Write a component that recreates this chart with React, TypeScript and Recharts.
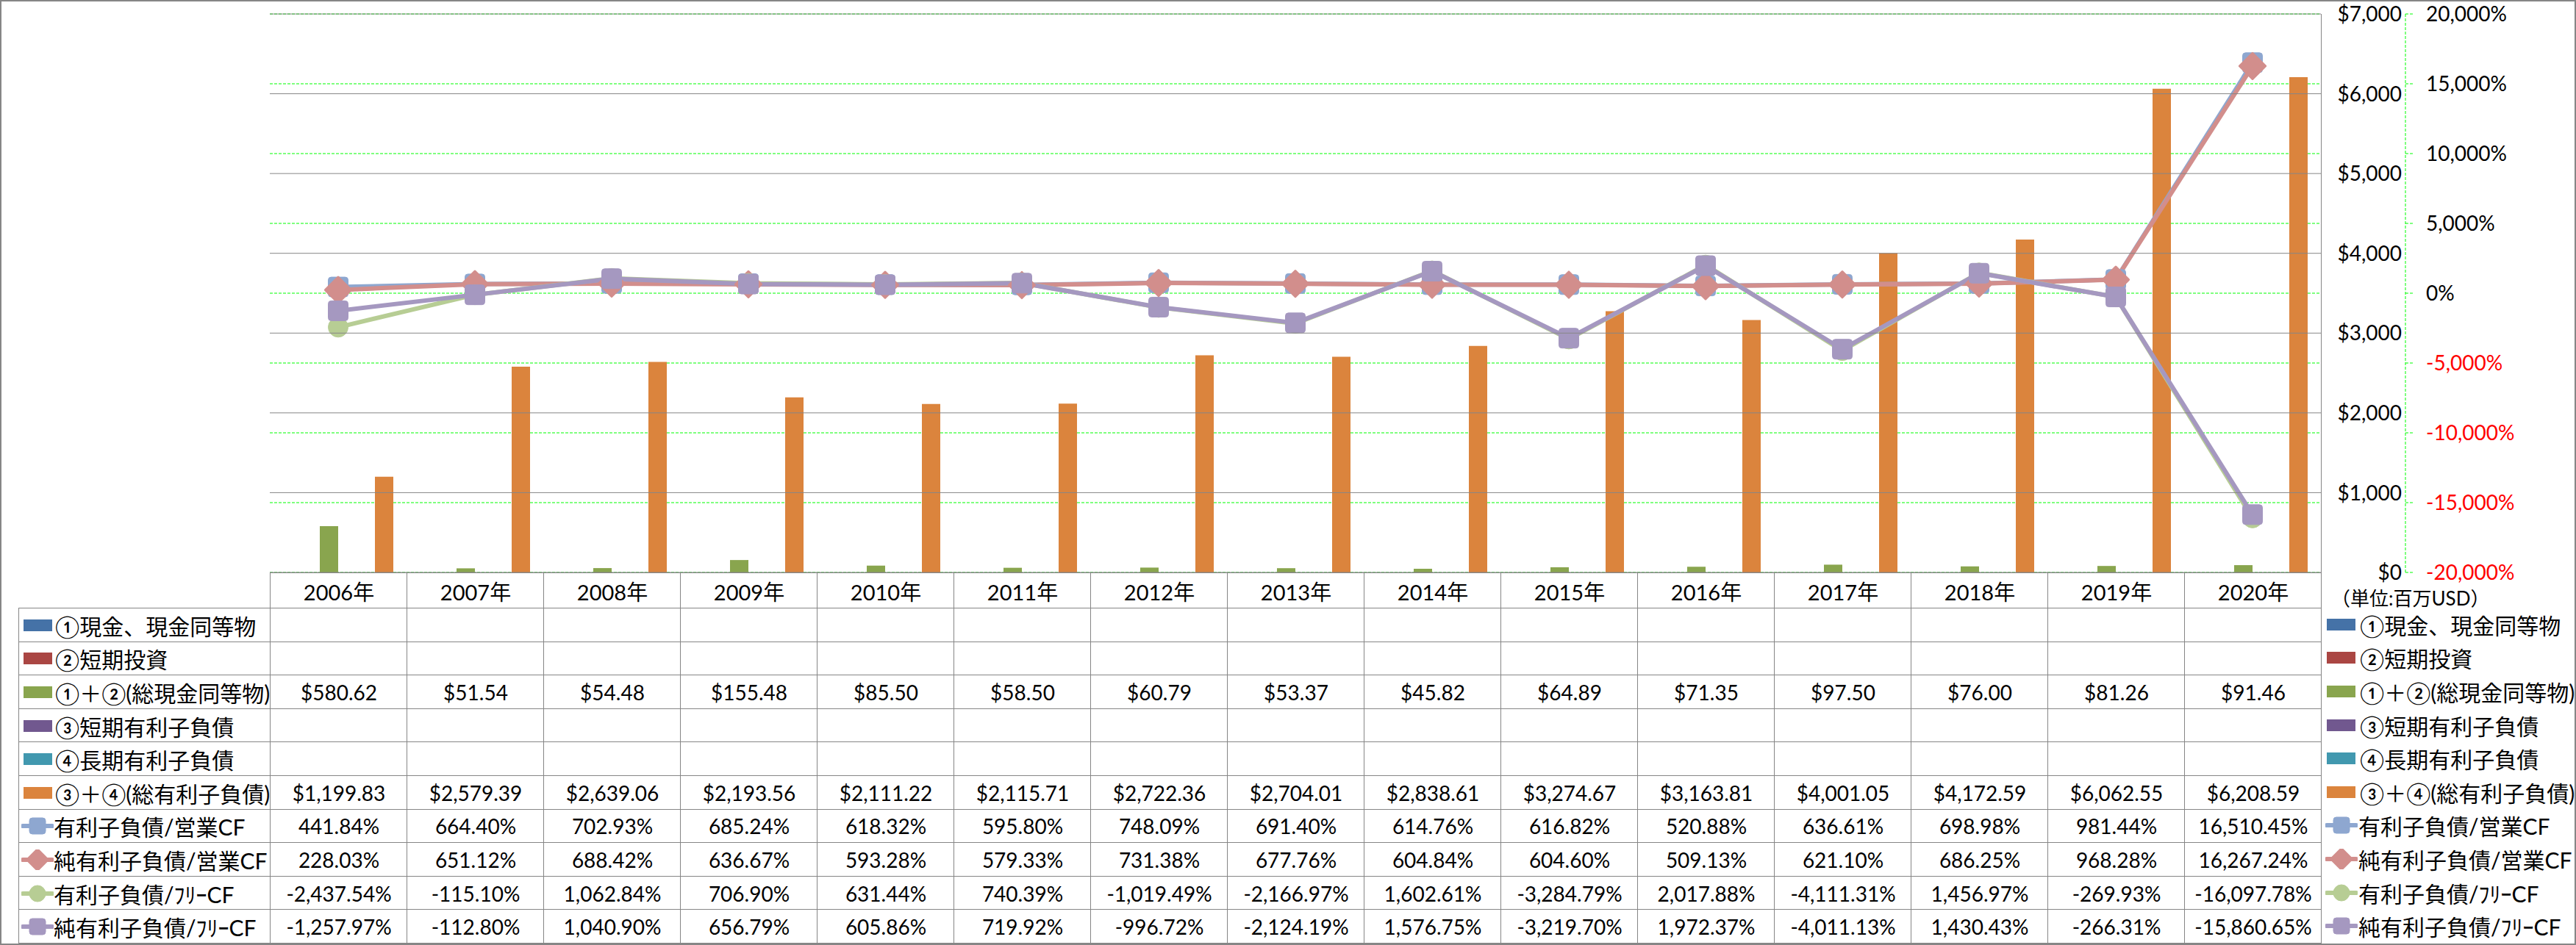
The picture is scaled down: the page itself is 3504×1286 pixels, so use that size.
import { Bar, CartesianGrid, ComposedChart, Line, XAxis, YAxis } from 'recharts';

// ---- data ----
const YEARS = [
  '2006年', '2007年', '2008年', '2009年', '2010年', '2011年', '2012年', '2013年',
  '2014年', '2015年', '2016年', '2017年', '2018年', '2019年', '2020年',
];

// ① / ② / ③ / ④ are empty in the source sheet
const CASH: (number | null)[] = [null, null, null, null, null, null, null, null, null, null, null, null, null, null, null];
const SHORT_INV: (number | null)[] = [null, null, null, null, null, null, null, null, null, null, null, null, null, null, null];
const TOTAL_CASH = [580.62, 51.54, 54.48, 155.48, 85.5, 58.5, 60.79, 53.37, 45.82, 64.89, 71.35, 97.5, 76.0, 81.26, 91.46];
const SHORT_DEBT: (number | null)[] = [null, null, null, null, null, null, null, null, null, null, null, null, null, null, null];
const LONG_DEBT: (number | null)[] = [null, null, null, null, null, null, null, null, null, null, null, null, null, null, null];
const TOTAL_DEBT = [
  1199.83, 2579.39, 2639.06, 2193.56, 2111.22, 2115.71, 2722.36, 2704.01, 2838.61, 3274.67,
  3163.81, 4001.05, 4172.59, 6062.55, 6208.59,
];

const DEBT_OCF = [441.84, 664.4, 702.93, 685.24, 618.32, 595.8, 748.09, 691.4, 614.76, 616.82, 520.88, 636.61, 698.98, 981.44, 16510.45];
const NET_DEBT_OCF = [228.03, 651.12, 688.42, 636.67, 593.28, 579.33, 731.38, 677.76, 604.84, 604.6, 509.13, 621.1, 686.25, 968.28, 16267.24];
const DEBT_FCF = [-2437.54, -115.1, 1062.84, 706.9, 631.44, 740.39, -1019.49, -2166.97, 1602.61, -3284.79, 2017.88, -4111.31, 1456.97, -269.93, -16097.78];
const NET_DEBT_FCF = [-1257.97, -112.8, 1040.9, 656.79, 605.86, 719.92, -996.72, -2124.19, 1576.75, -3219.7, 1972.37, -4011.13, 1430.43, -266.31, -15860.65];

const USD_TICKS = [0, 1000, 2000, 3000, 4000, 5000, 6000, 7000];
const PCT_TICKS = [-20000, -15000, -10000, -5000, 0, 5000, 10000, 15000, 20000];

const UNIT_LABEL = '（単位:百万USD）';

// ---- layout ----
const W = 3504;
const H = 1286;
const PLOT_L = 367;
const PLOT_R = 3157;
const PLOT_T = 19;
const PLOT_B = 779;
const HEAD_H = 48;
const ROW_H = 45.6;
const TABLE_L = 25;
const COL_W = (PLOT_R - PLOT_L) / YEARS.length;
const USD_AXIS_W = 115;
const PCT_AXIS_W = 200;

const FONT = 'Lato, "Noto Sans CJK JP", sans-serif';
const LINE_GRAY = '#868686';

type Marker = 'square' | 'diamond' | 'circle';
type Series = {
  key: string;
  name: string;
  color: string;
  kind: 'bar' | 'line';
  marker?: Marker;
  values: (number | null)[];
};

const SERIES: Series[] = [
  { key: 'cash', name: '①現金、現金同等物', color: '#4572A7', kind: 'bar', values: CASH },
  { key: 'shortInv', name: '②短期投資', color: '#AA4643', kind: 'bar', values: SHORT_INV },
  { key: 'totalCash', name: '①＋②(総現金同等物)', color: '#89A54E', kind: 'bar', values: TOTAL_CASH },
  { key: 'shortDebt', name: '③短期有利子負債', color: '#71588F', kind: 'bar', values: SHORT_DEBT },
  { key: 'longDebt', name: '④長期有利子負債', color: '#4198AF', kind: 'bar', values: LONG_DEBT },
  { key: 'totalDebt', name: '③＋④(総有利子負債)', color: '#DB843D', kind: 'bar', values: TOTAL_DEBT },
  { key: 'debtOcf', name: '有利子負債/営業CF', color: '#8EA7D0', kind: 'line', marker: 'square', values: DEBT_OCF },
  { key: 'netDebtOcf', name: '純有利子負債/営業CF', color: '#D28E8C', kind: 'line', marker: 'diamond', values: NET_DEBT_OCF },
  { key: 'debtFcf', name: '有利子負債/ﾌﾘｰCF', color: '#B7CD94', kind: 'line', marker: 'circle', values: DEBT_FCF },
  { key: 'netDebtFcf', name: '純有利子負債/ﾌﾘｰCF', color: '#A598C0', kind: 'line', marker: 'square', values: NET_DEBT_FCF },
];

const chartData = YEARS.map((year, i) => {
  const row: Record<string, string | number | null> = { year };
  for (const s of SERIES) row[s.key] = s.values[i];
  return row;
});

const fmt2 = (v: number) =>
  v.toLocaleString('en-US', { minimumFractionDigits: 2, maximumFractionDigits: 2 });

function cellText(s: Series, v: number | null): string {
  if (v == null) return '';
  return s.kind === 'bar' ? `$${fmt2(v)}` : `${fmt2(v)}%`;
}

function markerShape(kind: Marker, cx: number, cy: number, size: number, color: string, key?: string) {
  const h = size / 2;
  if (kind === 'circle') {
    return <circle key={key} cx={cx} cy={cy} r={h} fill={color} stroke={color} strokeWidth={1} />;
  }
  if (kind === 'diamond') {
    const d = h * 1.3;
    return (
      <polygon
        key={key}
        points={`${cx},${cy - d} ${cx + d},${cy} ${cx},${cy + d} ${cx - d},${cy}`}
        fill={color}
        stroke={color}
        strokeWidth={3}
        strokeLinejoin="round"
      />
    );
  }
  return (
    <rect key={key} x={cx - h} y={cy - h} width={size} height={size} rx={4} fill={color} stroke={color} strokeWidth={1} />
  );
}

function LegendIcon({ s }: { s: Series }) {
  if (s.kind === 'bar') {
    return (
      <svg width={40} height={24} style={{ display: 'block', flex: 'none' }}>
        <rect x={0} y={4} width={39} height={16} fill={s.color} />
      </svg>
    );
  }
  return (
    <svg width={44} height={28} style={{ display: 'block', flex: 'none' }}>
      <line x1={2} y1={14} x2={42} y2={14} stroke={s.color} strokeWidth={6} strokeLinecap="round" />
      {markerShape(s.marker as Marker, 22, 14, 22, s.color)}
    </svg>
  );
}

// $ tick: label on the right plus the grey gridline across the plot at the scaled y
function UsdTick(props: any) {
  const { x, y, payload } = props;
  return (
    <g>
      <line x1={PLOT_L} x2={PLOT_R} y1={y} y2={y} stroke={LINE_GRAY} strokeWidth={1} />
      <text x={x} y={y} dy="0.36em" textAnchor="end" fontFamily={FONT} fontSize={28} fill="#000">
        {`$${Number(payload.value).toLocaleString('en-US')}`}
      </text>
    </g>
  );
}

function PctTick(props: any) {
  const { x, y, payload } = props;
  const v = Number(payload.value);
  return (
    <text x={x} y={y} dy="0.36em" textAnchor="start" fontFamily={FONT} fontSize={28} fill={v < 0 ? '#FF0000' : '#000'}>
      {`${v.toLocaleString('en-US')}%`}
    </text>
  );
}

const cellBase: React.CSSProperties = {
  position: 'absolute',
  boxSizing: 'border-box',
  display: 'flex',
  alignItems: 'center',
  fontFamily: FONT,
  color: '#000',
  whiteSpace: 'nowrap',
};

export default function App() {
  const rowTop = (r: number) => PLOT_B + HEAD_H + r * ROW_H;
  const tableBottom = rowTop(SERIES.length);

  return (
    <div style={{ position: 'absolute', left: 0, top: 0, width: W, height: H, background: '#fff', overflow: 'hidden' }}>
      <style>{'body{margin:0}'}</style>

      <ComposedChart
        width={W}
        height={PLOT_B + 21}
        data={chartData}
        margin={{ top: PLOT_T, left: PLOT_L, right: W - PLOT_R - USD_AXIS_W - PCT_AXIS_W, bottom: 21 }}
        barCategoryGap={18}
        barGap={0}
        style={{ position: 'absolute', left: 0, top: 0 }}
      >
        <CartesianGrid yAxisId="b_pct" vertical={false} stroke="#00FF00" strokeDasharray="4 2" strokeWidth={1} />
        <XAxis dataKey="year" hide />
        <YAxis
          yAxisId="a_usd"
          orientation="right"
          domain={[0, 7000]}
          ticks={USD_TICKS}
          width={USD_AXIS_W}
          axisLine={false}
          tickLine={false}
          tickSize={0}
          tickMargin={110}
          tick={<UsdTick />}
          interval={0}
        />
        <YAxis
          yAxisId="b_pct"
          orientation="right"
          domain={[-20000, 20000]}
          ticks={PCT_TICKS}
          width={PCT_AXIS_W}
          axisLine={{ stroke: '#00FF00', strokeDasharray: '4 2' }}
          tickLine={{ stroke: '#00FF00', strokeDasharray: '4 2' }}
          tickSize={10}
          tickMargin={18}
          tick={<PctTick />}
          interval={0}
        />
        {SERIES.filter((s) => s.kind === 'bar').map((s) => (
          <Bar key={s.key} yAxisId="a_usd" dataKey={s.key} fill={s.color} isAnimationActive={false} />
        ))}
        {SERIES.filter((s) => s.kind === 'line').map((s) => (
          <Line
            key={s.key}
            yAxisId="b_pct"
            dataKey={s.key}
            stroke={s.color}
            strokeWidth={6}
            strokeLinejoin="round"
            isAnimationActive={false}
            activeDot={false}
            dot={(p: any) => markerShape(s.marker as Marker, p.cx, p.cy, 27, s.color, `${s.key}-${p.index}`)}
          />
        ))}
      </ComposedChart>

      {/* header row: years */}
      {YEARS.map((y, c) => (
        <div
          key={y}
          style={{
            ...cellBase,
            left: PLOT_L + c * COL_W,
            top: PLOT_B,
            width: COL_W + 1,
            height: HEAD_H + 1,
            borderLeft: `1px solid ${LINE_GRAY}`,
            borderTop: `1px solid ${LINE_GRAY}`,
            justifyContent: 'center',
            fontSize: 29,
          }}
        >
          {y}
        </div>
      ))}

      {/* data table rows */}
      {SERIES.map((s, r) => (
        <div key={s.key}>
          <div
            style={{
              ...cellBase,
              left: TABLE_L,
              top: rowTop(r),
              width: PLOT_L - TABLE_L + 1,
              height: ROW_H + 1,
              borderLeft: `1px solid ${LINE_GRAY}`,
              borderTop: `1px solid ${LINE_GRAY}`,
              paddingLeft: s.kind === 'bar' ? 6 : 3,
              fontSize: 30,
              gap: s.kind === 'bar' ? 3 : 0,
            }}
          >
            <LegendIcon s={s} />
            <span>{s.name}</span>
          </div>
          {s.values.map((v, c) => (
            <div
              key={c}
              style={{
                ...cellBase,
                left: PLOT_L + c * COL_W,
                top: rowTop(r),
                width: COL_W + 1,
                height: ROW_H + 1,
                borderLeft: `1px solid ${LINE_GRAY}`,
                borderTop: `1px solid ${LINE_GRAY}`,
                justifyContent: 'center',
                fontSize: 28,
              }}
            >
              {cellText(s, v)}
            </div>
          ))}
          {/* right legend */}
          <div
            style={{
              ...cellBase,
              left: PLOT_R + 6,
              top: rowTop(r),
              width: W - PLOT_R - 8,
              height: ROW_H,
              fontSize: 30,
              gap: s.kind === 'bar' ? 5 : 1,
              paddingLeft: s.kind === 'bar' ? 2 : 0,
            }}
          >
            <LegendIcon s={s} />
            <span>{s.name}</span>
          </div>
        </div>
      ))}

      {/* table bottom + right vertical border */}
      <div style={{ position: 'absolute', left: TABLE_L, top: tableBottom, width: PLOT_R - TABLE_L, height: 0, borderTop: `1px solid ${LINE_GRAY}` }} />
      <div style={{ position: 'absolute', left: PLOT_R, top: PLOT_T, width: 0, height: tableBottom - PLOT_T + 1, borderLeft: `1px solid ${LINE_GRAY}` }} />

      {/* unit label */}
      <div style={{ ...cellBase, left: PLOT_R + 14, top: 797, height: 30, fontSize: 26 }}>{UNIT_LABEL}</div>

      {/* outer frame */}
      <div
        style={{
          position: 'absolute',
          left: 0,
          top: 0,
          width: W,
          height: H,
          boxSizing: 'border-box',
          border: `2px solid ${LINE_GRAY}`,
          pointerEvents: 'none',
        }}
      />
    </div>
  );
}
